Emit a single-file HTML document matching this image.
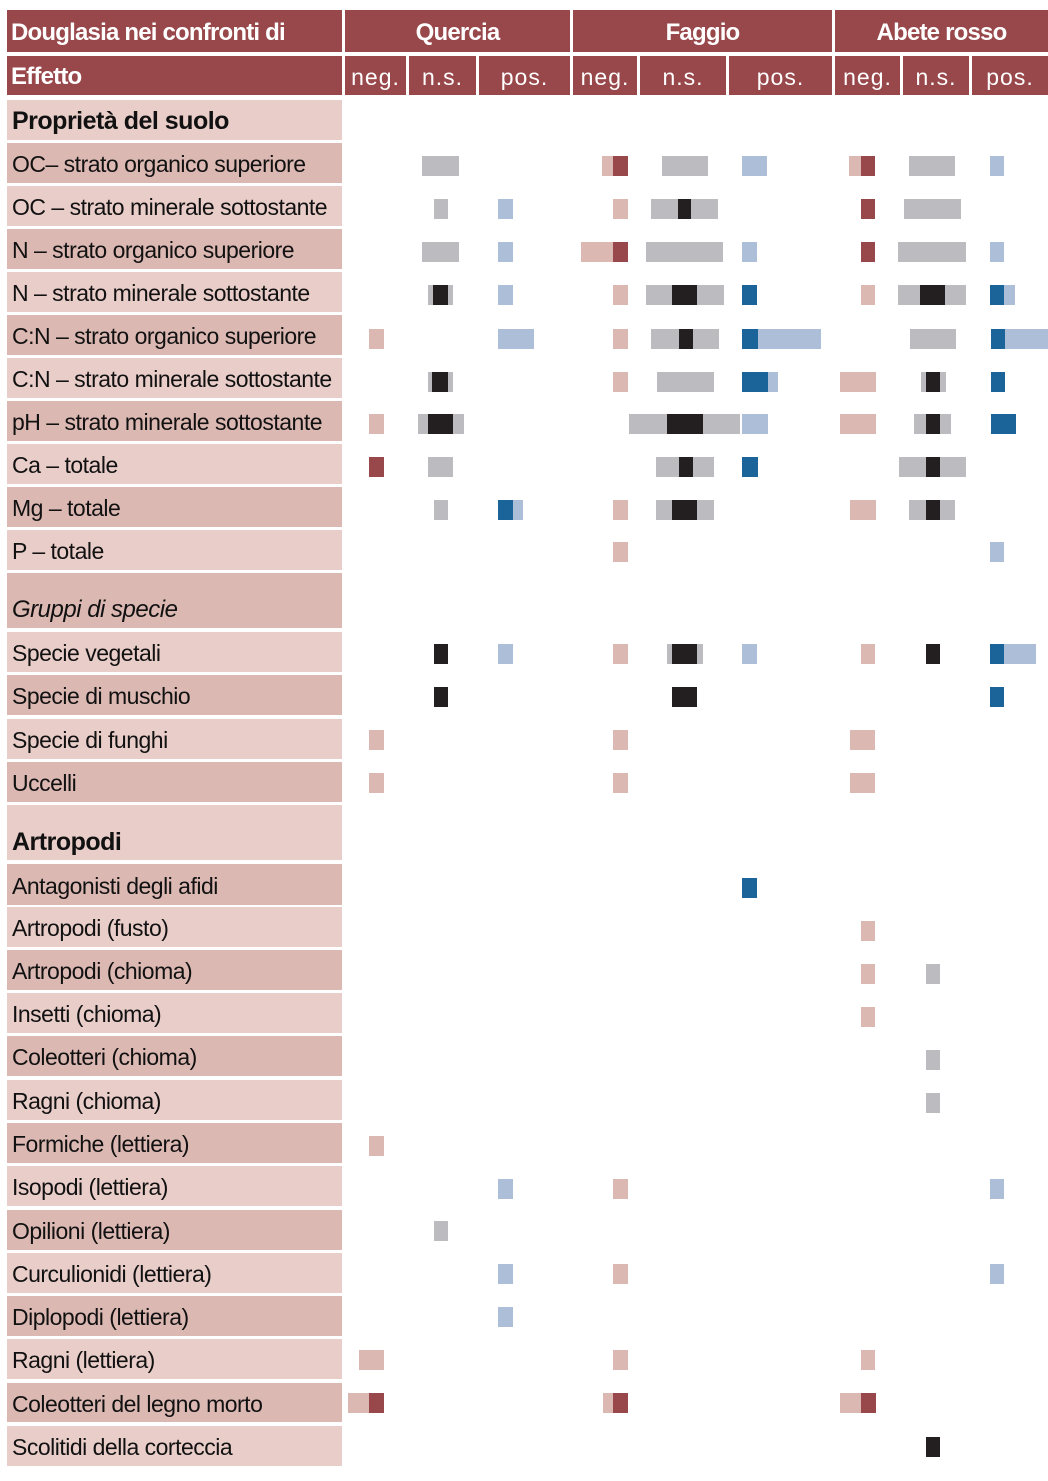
<!DOCTYPE html>
<html><head><meta charset="utf-8"><style>
body{margin:0;width:1048px;height:1481px;background:#fff;position:relative;overflow:hidden;font-family:"Liberation Sans",sans-serif}
.h{position:absolute;background:#98474a;color:#fff;font-weight:bold;font-size:24px;display:flex;align-items:center;letter-spacing:-0.8px;padding-top:3px;box-sizing:border-box}
.c{justify-content:center}
.s{font-weight:normal;letter-spacing:1px;font-size:23px}
.l{position:absolute;left:7px;width:335px;font-size:23px;color:#111;display:flex;align-items:center;padding-left:5px;padding-top:3px;box-sizing:border-box;letter-spacing:-0.5px;white-space:nowrap}
.a{background:#dcb8b3}.b{background:#e9cdc9}
.m{position:absolute;height:20px}
</style></head><body>
<div class="h" style="left:7px;top:10px;width:335px;height:42px;padding-left:4px">Douglasia nei confronti di</div>
<div class="h c" style="left:345px;top:10px;width:225px;height:42px">Quercia</div>
<div class="h c" style="left:573px;top:10px;width:259px;height:42px">Faggio</div>
<div class="h c" style="left:835px;top:10px;width:213px;height:42px">Abete rosso</div>
<div class="h" style="left:7px;top:56px;width:335px;height:39px;padding-left:4px">Effetto</div>
<div class="h c s" style="left:345px;top:56px;width:61px;height:39px">neg.</div>
<div class="h c s" style="left:409px;top:56px;width:67px;height:39px">n.s.</div>
<div class="h c s" style="left:479px;top:56px;width:91px;height:39px">pos.</div>
<div class="h c s" style="left:573px;top:56px;width:64px;height:39px">neg.</div>
<div class="h c s" style="left:640px;top:56px;width:86px;height:39px">n.s.</div>
<div class="h c s" style="left:729px;top:56px;width:103px;height:39px">pos.</div>
<div class="h c s" style="left:835px;top:56px;width:65px;height:39px">neg.</div>
<div class="h c s" style="left:903px;top:56px;width:66px;height:39px">n.s.</div>
<div class="h c s" style="left:972px;top:56px;width:76px;height:39px">pos.</div>

<div class="l b" style="top:100px;height:40px;font-weight:bold;font-size:25px">Proprietà del suolo</div>
<div class="l a" style="top:143px;height:40px">OC– strato organico superiore</div>
<div class="l b" style="top:186px;height:40px">OC – strato minerale sottostante</div>
<div class="l a" style="top:229px;height:40px">N – strato organico superiore</div>
<div class="l b" style="top:272px;height:40px">N – strato minerale sottostante</div>
<div class="l a" style="top:315px;height:40px">C:N – strato organico superiore</div>
<div class="l b" style="top:358px;height:40px">C:N – strato minerale sottostante</div>
<div class="l a" style="top:401px;height:40px">pH – strato minerale sottostante</div>
<div class="l b" style="top:444px;height:40px">Ca – totale</div>
<div class="l a" style="top:487px;height:40px">Mg – totale</div>
<div class="l b" style="top:530px;height:40px">P – totale</div>
<div class="l a" style="top:573px;height:55px;align-items:flex-end;padding-bottom:4px;font-style:italic;font-size:24px">Gruppi di specie</div>
<div class="l b" style="top:632px;height:40px">Specie vegetali</div>
<div class="l a" style="top:675px;height:40px">Specie di muschio</div>
<div class="l b" style="top:719px;height:40px">Specie di funghi</div>
<div class="l a" style="top:762px;height:40px">Uccelli</div>
<div class="l b" style="top:805px;height:55px;align-items:flex-end;padding-bottom:3px;font-weight:bold;font-size:25px">Artropodi</div>
<div class="l a" style="top:864px;height:41px">Antagonisti degli afidi</div>
<div class="l b" style="top:907px;height:40px">Artropodi (fusto)</div>
<div class="l a" style="top:950px;height:40px">Artropodi (chioma)</div>
<div class="l b" style="top:993px;height:40px">Insetti (chioma)</div>
<div class="l a" style="top:1036px;height:40px">Coleotteri (chioma)</div>
<div class="l b" style="top:1080px;height:40px">Ragni (chioma)</div>
<div class="l a" style="top:1123px;height:40px">Formiche (lettiera)</div>
<div class="l b" style="top:1166px;height:40px">Isopodi (lettiera)</div>
<div class="l a" style="top:1210px;height:40px">Opilioni (lettiera)</div>
<div class="l b" style="top:1253px;height:40px">Curculionidi (lettiera)</div>
<div class="l a" style="top:1296px;height:40px">Diplopodi (lettiera)</div>
<div class="l b" style="top:1339px;height:40px">Ragni (lettiera)</div>
<div class="l a" style="top:1383px;height:39px">Coleotteri del legno morto</div>
<div class="l b" style="top:1426px;height:40px">Scolitidi della corteccia</div>

<script>
var C={p:'#dcb8b3',r:'#98474a',g:'#bcbcc0',k:'#231f20',l:'#adbfd8',b:'#1b6499'};
var D=[
[166,'g422-459 p602-613 r613-628 g662-708 l742-767 p849-861 r861-875 g909-955 l990-1004'],
[209,'g434-448 l498-513 p613-628 g651-678 k678-691 g691-718 r861-875 g904-961'],
[252,'g422-459 l498-513 p581-613 r613-628 g646-723 l742-757 r861-875 g898-966 l990-1004'],
[295,'g428-433 k433-448 g448-453 l498-513 p613-628 g646-672 k672-697 g697-724 b742-757 p861-875 g898-920 k920-945 g945-966 b990-1004 l1004-1015'],
[339,'p369-384 l498-534 p613-628 g651-679 k679-693 g693-719 b742-758 l758-821 g910-956 b991-1005 l1005-1048'],
[382,'g428-432 k432-448 g448-453 p613-628 g657-714 b742-768 l768-778 p840-876 g921-926 k926-940 g940-946 b991-1005'],
[424,'p369-384 g418-428 k428-453 g453-464 g629-667 k667-703 g703-740 l742-768 p840-876 g914-926 k926-940 g940-951 b991-1016'],
[467,'r369-384 g428-453 g656-679 k679-693 g693-714 b742-758 g899-926 k926-940 g940-966'],
[510,'g434-448 b498-513 l513-523 p613-628 g656-672 k672-697 g697-714 p850-876 g909-926 k926-940 g940-955'],
[552,'p613-628 l990-1004'],
[654,'k434-448 l498-513 p613-628 g667-672 k672-697 g697-703 l742-757 p861-875 k926-940 b990-1004 l1004-1036'],
[697,'k434-448 k672-697 b990-1004'],
[740,'p369-384 p613-628 p850-875'],
[783,'p369-384 p613-628 p850-875'],
[888,'b742-757'],[931,'p861-875'],[974,'p861-875 g926-940'],[1017,'p861-875'],
[1060,'g926-940'],[1103,'g926-940'],[1146,'p369-384'],
[1189,'l498-513 p613-628 l990-1004'],[1231,'g434-448'],
[1274,'l498-513 p613-628 l990-1004'],[1317,'l498-513'],
[1360,'p359-384 p613-628 p861-875'],
[1403,'p348-369 r369-384 p603-613 r613-628 p840-861 r861-876'],
[1447,'k926-940']];
var h='';
D.forEach(function(r){r[1].split(' ').forEach(function(s){var c=C[s[0]],xy=s.slice(1).split('-');
h+='<div class="m" style="top:'+(r[0]-10)+'px;left:'+xy[0]+'px;width:'+(xy[1]-xy[0])+'px;background:'+c+'"></div>';});});
document.body.insertAdjacentHTML('beforeend',h);
</script>
</body></html>
